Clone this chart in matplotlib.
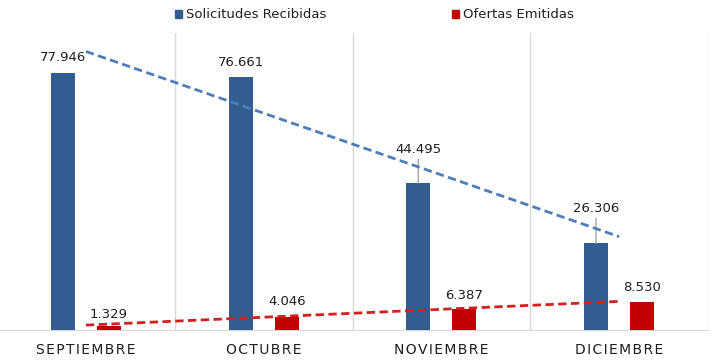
import matplotlib
matplotlib.use("Agg")
import matplotlib.pyplot as plt
from matplotlib.patches import Patch
import numpy as np

months = ["SEPTIEMBRE", "OCTUBRE", "NOVIEMBRE", "DICIEMBRE"]
solicitudes = [77946, 76661, 44495, 26306]
ofertas = [1329, 4046, 6387, 8530]
series_names = ["Solicitudes Recibidas", "Ofertas Emitidas"]

BLUE = "#335C8F"
RED = "#C00000"
BLUE_TREND = "#4F7DB8"
RED_TREND = "#D02020"

plt.rcParams["font.family"] = ["DejaVu Sans"]

def fmt(v):
    return f"{v:,}".replace(",", ".")

def spaced(s):
    return "\u200a".join(s)

fig = plt.figure(figsize=(7.21, 3.61), dpi=100)
ax = fig.add_axes([-3/721, 1 - 330/361, 711/721, 297/361])

x = np.arange(len(months))
w = 0.135
off = 0.13
ax.bar(x - off, solicitudes, w, color=BLUE, zorder=3)
ax.bar(x + off, ofertas, w, color=RED, zorder=3)

# linear trend lines
for vals, col in ((solicitudes, BLUE_TREND), (ofertas, RED_TREND)):
    p = np.polyfit(x, vals, 1)
    ax.plot(x, np.polyval(p, x), ls=(0, (3.0, 1.6)), color=col, lw=2.0, zorder=4)

# data labels
blue_off = [15, 15, 34, 35]
red_off = [11, 15, 13, 14]
for i, v in enumerate(solicitudes):
    ax.annotate(fmt(v), (x[i] - off, v), xytext=(0, blue_off[i]),
                textcoords="offset pixels", ha="center", va="center",
                fontsize=9.5, color="#1F1F1F", zorder=5)
    if blue_off[i] > 20:
        ax.annotate("", (x[i] - off, v), xytext=(0, blue_off[i] - 10),
                    textcoords="offset pixels",
                    arrowprops=dict(arrowstyle="-", color="#A6A6A6", lw=1,
                                    shrinkA=0, shrinkB=0))
for i, v in enumerate(ofertas):
    ax.annotate(fmt(v), (x[i] + off, v), xytext=(0, red_off[i]),
                textcoords="offset pixels", ha="center", va="center",
                fontsize=9.5, color="#1F1F1F", zorder=5)

ax.set_xlim(-0.5, 3.5)
ax.set_ylim(0, 90000)
ax.set_yticks([])
ax.set_xticks(x)
ax.set_xticklabels([spaced(m) for m in months], fontsize=10, color="#1F1F1F")
ax.tick_params(axis="x", length=0, pad=9)
for xb in [0.5, 1.5, 2.5, 3.5]:
    ax.axvline(xb, color="#D9D9D9", lw=1, zorder=1)
for s in ["top", "right", "left"]:
    ax.spines[s].set_visible(False)
ax.spines["bottom"].set_color("#D9D9D9")

handles = [Patch(color=BLUE), Patch(color=RED)]
fig.legend(handles, series_names, loc="center", bbox_to_anchor=(0.519, 1 - 15/361),
           ncol=2, frameon=False, fontsize=9.5, handlelength=0.55, handleheight=0.55,
           handletextpad=0.3, columnspacing=9.5, labelcolor="#1F1F1F")

fig.savefig("out.png", dpi=100)
